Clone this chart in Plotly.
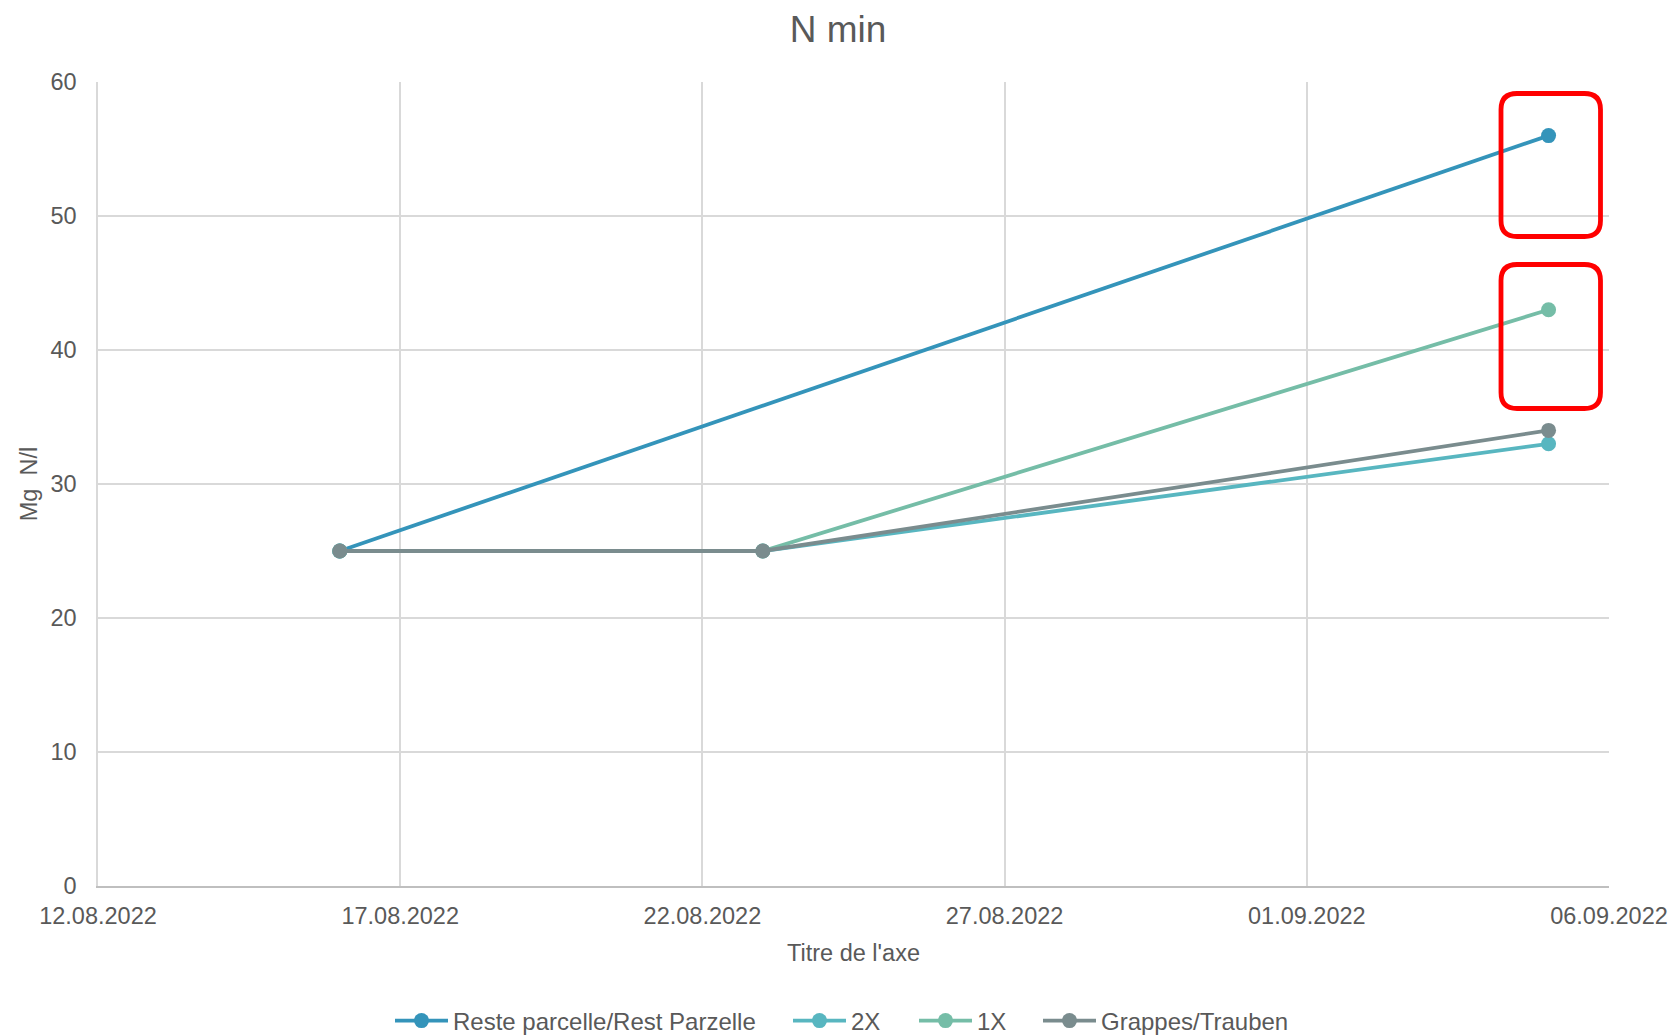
import plotly.graph_objects as go

# ---- data ----
dates = ["2022-08-16", "2022-08-23", "2022-09-05"]
reste = [25, None, 56]
x2 = [25, 25, 33]
x1 = [25, 25, 43]
grappes = [25, 25, 34]

series_names = ["Reste parcelle/Rest Parzelle", "2X", "1X", "Grappes/Trauben"]
series_values = [reste, x2, x1, grappes]
series_colors = ["#3494BA", "#58B6C0", "#75BDA7", "#7A8C8E"]

tick_vals = ["2022-08-12", "2022-08-17", "2022-08-22", "2022-08-27", "2022-09-01", "2022-09-06"]
y_ticks = [0, 10, 20, 30, 40, 50, 60]

W, H = 1676, 1035
L, R, T, B = 98, 67, 82, 149
PW, PH = W - L - R, H - T - B

FONT = "Liberation Sans, Arial, sans-serif"
TXT = "#595959"

# legend entry left positions (px) - one legend per series
legend_px = [395, 793, 919, 1043]
legend_keys = ["legend", "legend2", "legend3", "legend4"]

fig = go.Figure()
for name, vals, col, lk in zip(series_names, series_values, series_colors, legend_keys):
    fig.add_trace(go.Scatter(
        x=dates, y=vals, name=name, mode="lines+markers",
        connectgaps=True, legend=lk,
        line=dict(color=col, width=3.8),
        marker=dict(color=col, size=15),
    ))


def rounded_box(px0, py0, px1, py1, r):
    # pixel box (within page) -> paper-coordinate rounded rectangle path
    def fx(px):
        return (px - L) / PW

    def fy(py):
        return (T + PH - py) / PH

    rx, ry = r / PW, r / PH
    x0, x1, y0, y1 = fx(px0), fx(px1), fy(py1), fy(py0)
    return (f"M {x0+rx},{y1} L {x1-rx},{y1} Q {x1},{y1} {x1},{y1-ry} "
            f"L {x1},{y0+ry} Q {x1},{y0} {x1-rx},{y0} L {x0+rx},{y0} "
            f"Q {x0},{y0} {x0},{y0+ry} L {x0},{y1-ry} Q {x0},{y1} {x0+rx},{y1} Z")


for box in [(1501, 93.5, 1600.5, 236.5), (1501, 264.5, 1600.5, 408.5)]:
    fig.add_shape(type="path", xref="paper", yref="paper",
                  path=rounded_box(*box, 16),
                  line=dict(color="#FF0000", width=4.8))

legends = {}
for lk, px in zip(legend_keys, legend_px):
    legends[lk] = dict(orientation="h", xref="container", yref="container",
                       x=(px - 5) / W, xanchor="left", y=1 - 1021 / H, yanchor="middle",
                       font=dict(size=24, color=TXT, family=FONT), itemwidth=53,
                       bgcolor="rgba(0,0,0,0)")

fig.update_layout(
    width=W, height=H,
    margin=dict(l=L, r=R, t=T, b=B, autoexpand=False),
    paper_bgcolor="white", plot_bgcolor="white",
    font=dict(family=FONT, color=TXT, size=23.5),
    title=dict(text="N min", x=0.5, xanchor="center", y=1 - 29 / H, yanchor="middle",
               font=dict(size=37, color=TXT, family=FONT)),
    showlegend=True,
    **legends,
)

fig.update_xaxes(
    type="date",
    range=["2022-08-12", "2022-09-06"],
    tickmode="array", tickvals=tick_vals, tickformat="%d.%m.%Y",
    showgrid=True, gridcolor="#D9D9D9", gridwidth=1.5,
    showline=True, linecolor="#BFBFBF", linewidth=1.5,
    ticks="", ticklabelstandoff=8, automargin=False,
    tickfont=dict(size=23.5, color=TXT),
    title=dict(text="Titre de l'axe", font=dict(size=23.5, color=TXT), standoff=17),
    zeroline=False, mirror=False,
)
fig.update_yaxes(
    range=[0, 60], tickmode="array", tickvals=y_ticks,
    showgrid=True, gridcolor="#D9D9D9", gridwidth=1.5,
    showline=True, linecolor="#D9D9D9", linewidth=1.5,
    ticks="", ticklabelstandoff=15, automargin=False,
    tickfont=dict(size=23.5, color=TXT),
    title=dict(text="Mg  N/l", font=dict(size=23.5, color=TXT), standoff=6),
    zeroline=False,
)

fig.write_html("out.html", config={"displayModeBar": False},
               post_script="document.body.style.margin='0px';")
